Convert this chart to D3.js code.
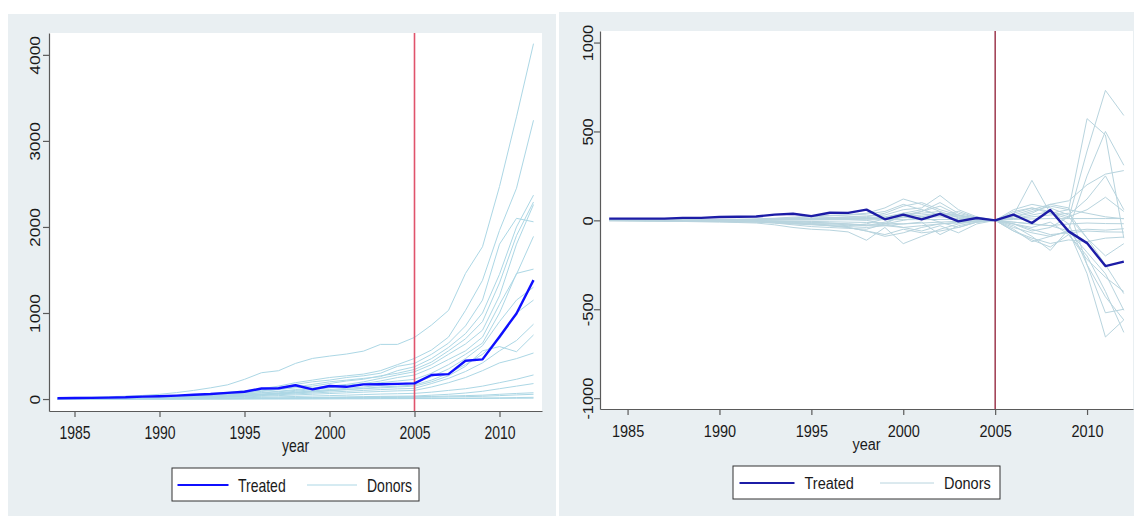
<!DOCTYPE html>
<html>
<head>
<meta charset="utf-8">
<script src="https://cdn.jsdelivr.net/npm/d3@7/dist/d3.min.js"></script>
<style>
  html, body { margin: 0; padding: 0; background: #fff; }
  svg { display: block; }
</style>
</head>
<body>
<svg id="chart" width="1134" height="516"></svg>
<script>
// years 1984 - 2012
var years = d3.range(1984, 2013);
var xTicks = [1985, 1990, 1995, 2000, 2005, 2010];
var yTicksLevel = [0, 1000, 2000, 3000, 4000];
var yTicksGap = [-1000, -500, 0, 500, 1000];
var legendLabels = ["Treated", "Donors"];
var xTitle = "year";
var treatmentYear = 2005;

// left panel: outcome levels
var treatedLevel = [10,12,14,17,20,28,33,40,50,58,72,85,122,125,160,112,152,142,170,172,176,182,279,290,445,461,724,995,1382];
var donorsLevel = [
  [15,18,22,27,33,42,55,75,100,130,165,229,306,329,414,472,499,523,557,635,635,716,860,1030,1460,1770,2470,3280,4130],
  [10,12,14,17,21,26,32,40,50,62,78,95,120,150,190,220,250,270,290,330,400,472,570,720,1030,1380,1960,2450,3240],
  [8,10,12,15,18,22,28,35,44,55,68,82,105,130,170,200,220,250,270,300,380,414,520,650,850,1150,1800,2100,2060],
  [7,9,11,13,16,20,25,31,39,48,60,75,95,115,140,170,200,220,240,260,330,375,470,600,760,1000,1450,2000,2370],
  [6,8,10,12,15,18,23,29,36,45,56,70,88,110,130,150,180,210,230,270,300,344,430,560,700,900,1350,1900,2290],
  [6,7,9,11,13,16,20,25,31,39,48,60,75,90,110,130,150,170,200,240,280,317,400,520,640,800,1200,1800,2260],
  [5,6,8,10,12,15,19,24,30,37,46,57,70,85,100,120,140,160,180,210,250,279,360,460,560,720,1100,1450,1890],
  [5,6,7,9,11,13,16,20,25,31,38,47,58,72,90,110,130,150,170,190,210,229,300,400,520,650,1000,1460,1510],
  [4,5,6,8,10,12,15,19,24,30,37,45,55,68,80,95,110,125,140,160,175,190,260,350,470,620,900,1150,1300],
  [4,5,6,7,9,11,13,16,20,25,31,38,47,58,70,82,95,110,125,140,150,163,220,300,400,520,700,1000,1150],
  [3,4,5,6,7,9,11,14,17,21,26,32,40,50,60,70,80,90,100,110,118,124,180,240,320,420,560,680,870],
  [4,5,6,7,9,11,14,17,21,26,32,40,50,62,75,88,100,110,120,130,140,150,200,270,380,560,610,550,745],
  [3,3,4,5,6,7,9,11,14,17,21,26,32,40,48,56,64,72,80,88,95,100,140,190,250,330,420,470,535],
  [2,2,3,3,4,5,6,7,9,11,13,16,20,25,30,35,40,45,52,58,62,66,80,100,120,150,190,230,280],
  [1,1,2,2,2,3,3,4,5,6,7,9,11,13,16,19,22,25,28,31,33,35,45,55,70,90,120,150,180],
  [1,1,1,2,2,2,3,3,4,5,6,7,8,10,12,14,16,18,20,23,25,27,30,35,40,45,55,65,73],
  [1,1,1,1,2,2,2,3,3,4,4,5,6,7,8,10,12,14,16,18,19,20,22,25,28,32,40,48,55],
  [0,0,1,1,1,1,1,1,2,2,2,2,3,3,3,4,4,5,5,6,7,8,9,10,11,12,14,17,20],
  [0,0,0,0,1,1,1,1,1,1,1,2,2,2,2,2,3,3,3,4,4,5,5,6,6,7,8,9,10]
];

// right panel: gaps
var treatedGap = [10,10,10,10,14,14,19,20,22,32,37,24,43,42,60,6,32,6,37,-6,13,0,32,-15,58,-62,-128,-257,-232];
var donorsGap = [
  [0,0,-1,-2,-3,-4,-5,-6,-8,-15,-25,-35,-40,-45,-50,-20,30,50,80,30,10,0,30,225,40,10,390,731,590],
  [1,1,2,2,3,4,5,6,8,12,18,22,28,32,40,70,120,90,50,15,5,0,50,70,40,60,572,480,-100],
  [-2,-3,-4,-5,-6,-8,-10,-12,-15,-25,-40,-50,-55,-65,-112,-40,-131,-90,-50,-20,-5,0,-30,-90,-169,-50,250,500,310],
  [1,1,1,2,2,3,3,4,5,8,10,12,15,20,25,30,60,70,140,60,20,0,20,40,90,110,200,260,280],
  [-1,-2,-2,-3,-4,-5,-6,-8,-10,-15,-20,-25,-30,-35,-40,-30,-20,-10,-80,-30,-10,0,-20,-60,-40,20,60,130,50],
  [0,-1,-1,-2,-3,-4,-5,-6,-8,-12,-18,-22,-30,-40,-60,-90,-70,-40,-20,-10,-5,0,-50,-120,-90,-60,-300,-656,-560],
  [1,1,2,2,3,3,4,5,6,10,14,20,25,30,35,50,90,60,30,50,15,0,40,70,50,-20,-250,-520,-500],
  [0,0,1,1,1,2,2,3,3,5,8,10,8,5,0,-20,-40,-60,-30,-70,-20,0,-60,-110,-150,-80,-200,-400,-630],
  [-2,-2,-3,-3,-4,-5,-6,-7,-9,-12,-15,-18,-20,-25,-30,-20,0,20,40,30,10,0,10,30,50,20,-100,-250,-412],
  [0,0,0,1,1,1,2,2,3,4,5,6,8,10,12,15,30,40,50,-10,-5,0,-10,-20,-30,-60,-180,-300,-506],
  [1,1,1,1,2,2,2,3,3,4,5,6,7,8,10,12,15,18,20,10,5,0,20,50,80,60,40,20,9],
  [-1,-1,-1,-1,-2,-2,-2,-3,-3,-4,-5,-6,-8,-10,-12,-15,-20,-15,-10,-5,-2,0,-10,-20,-30,-20,-15,-18,-19],
  [0,0,0,-1,-1,-1,-2,-2,-3,-5,-8,-10,-15,-20,-25,-30,-40,-30,-20,-15,-5,0,-40,-70,-90,-60,-50,-55,-47],
  [1,1,2,2,2,3,3,4,5,6,8,10,12,14,16,20,40,60,30,20,5,0,-20,-50,-80,-70,-60,-65,-66],
  [0,0,-1,-1,-1,-2,-2,-3,-4,-6,-10,-20,-30,-40,-60,-80,-50,-70,-60,-40,-10,0,-60,-100,-130,-110,-120,-100,-94],
  [0,0,0,0,1,1,1,1,2,3,4,5,6,7,8,10,20,30,40,25,10,0,10,20,30,40,-100,-200,-131],
  [-1,-1,-1,-2,-2,-2,-3,-3,-4,-6,-8,-12,-16,-20,-30,-10,20,50,100,40,15,0,30,60,90,70,-250,-430,-560],
  [0,0,0,0,1,1,1,1,1,2,2,2,3,3,3,4,4,4,5,5,3,0,5,8,10,10,10,10,10],
  [-1,-1,-2,-2,-3,-3,-4,-5,-6,-10,-15,-20,-25,-30,-20,10,40,20,-10,-40,-10,0,-20,-40,-10,-80,-220,-320,-400],
  [0,1,1,1,2,2,3,3,4,6,9,12,15,18,20,40,80,100,60,30,10,0,60,90,70,30,120,250,60]
];

var svg = d3.select("#chart");
var fontFamily = "'Liberation Sans', Arial, sans-serif";

var panels = [
  {
    bg: [8, 14, 548, 502], plot: { l: 49, r: 542, t: 33, b: 411 },
    yDomain: [-139, 4254], yTicks: yTicksLevel,
    treated: treatedLevel, donors: donorsLevel,
    treatedColor: "#0f0fff", donorColor: "#acd7e5", refColor: "#e0536c", refWidth: 1.6,
    fontSize: 14, sy: 1.25, yLabelOff: 9.5, xLabelOff: 28, yearBase: 452,
    legend: { x: 172, y: 468, w: 247, h: 33, l1: [5.5, 56.5], t1: 66, l2: [135, 185], t2: 195, base: 23.7 }
  },
  {
    bg: [559, 12, 575, 504], plot: { l: 600, r: 1133, t: 31, b: 409 },
    yDomain: [-1061, 1065], yTicks: yTicksGap,
    treated: treatedGap, donors: donorsGap,
    treatedColor: "#1c1ca6", donorColor: "#b8d4de", refColor: "#8e1b33", refWidth: 1.3,
    fontSize: 14.5, sy: 1.13, yLabelOff: 7.5, xLabelOff: 28, yearBase: 450,
    legend: { x: 733, y: 466, w: 267, h: 33, l1: [6.5, 61.5], t1: 71.5, l2: [147, 201], t2: 211, base: 23.3 }
  }
];

panels.forEach(function (cfg) {
  var g = svg.append("g");
  var p = cfg.plot;

  g.append("rect")
    .attr("x", cfg.bg[0]).attr("y", cfg.bg[1])
    .attr("width", cfg.bg[2]).attr("height", cfg.bg[3])
    .attr("fill", "#e9eff2");

  g.append("rect")
    .attr("x", p.l).attr("y", p.t)
    .attr("width", p.r - p.l).attr("height", p.b - p.t)
    .attr("fill", "#ffffff");

  var x = d3.scaleLinear().domain([1983.5, 2012.5]).range([p.l, p.r]);
  var y = d3.scaleLinear().domain(cfg.yDomain).range([p.b, p.t]);

  var line = d3.line()
    .x(function (d, i) { return x(years[i]); })
    .y(function (d) { return y(d); });

  g.selectAll(".donor")
    .data(cfg.donors)
    .enter()
    .append("path")
    .attr("class", "donor")
    .attr("d", line)
    .attr("fill", "none")
    .attr("stroke", cfg.donorColor)
    .attr("stroke-width", 1);

  g.append("line")
    .attr("x1", x(treatmentYear)).attr("x2", x(treatmentYear))
    .attr("y1", p.t).attr("y2", p.b)
    .attr("stroke", cfg.refColor)
    .attr("stroke-width", cfg.refWidth);

  g.append("path")
    .datum(cfg.treated)
    .attr("d", line)
    .attr("fill", "none")
    .attr("stroke", cfg.treatedColor)
    .attr("stroke-width", 2.4)
    .attr("stroke-linejoin", "round");

  // axes (plain hyphen for negatives, like the original)
  var plain = function (d) { return String(d); };
  var yAxis = g.append("g")
    .attr("transform", "translate(" + p.l + ",0)")
    .call(d3.axisLeft(y).tickValues(cfg.yTicks).tickSize(6).tickSizeOuter(0).tickFormat(plain));

  var xAxis = g.append("g")
    .attr("transform", "translate(0," + p.b + ")")
    .call(d3.axisBottom(x).tickValues(xTicks).tickSize(6).tickSizeOuter(0).tickFormat(plain));

  [yAxis, xAxis].forEach(function (a) {
    a.select(".domain").attr("stroke", "#5a5a5a").attr("stroke-width", 1.2);
    a.selectAll(".tick line").attr("stroke", "#5a5a5a").attr("stroke-width", 1.2);
    a.selectAll("text")
      .attr("font-family", fontFamily)
      .attr("font-size", cfg.fontSize)
      .attr("fill", "#1a1a1a");
  });

  yAxis.selectAll(".tick text")
    .attr("x", 0).attr("y", 0).attr("dy", null)
    .attr("text-anchor", "middle")
    .attr("transform", "translate(" + (-cfg.yLabelOff) + ",0) scale(1," + cfg.sy + ") rotate(-90)");

  xAxis.selectAll(".tick text")
    .attr("y", 0).attr("dy", null)
    .attr("transform", "translate(0," + cfg.xLabelOff + ") scale(1," + cfg.sy + ")");

  g.append("text")
    .attr("transform", "translate(" + ((p.l + p.r) / 2) + "," + cfg.yearBase + ") scale(1," + cfg.sy + ")")
    .attr("text-anchor", "middle")
    .attr("font-family", fontFamily)
    .attr("font-size", cfg.fontSize)
    .attr("fill", "#1a1a1a")
    .text(xTitle);

  // legend
  var L = cfg.legend;
  var lg = g.append("g").attr("transform", "translate(" + L.x + "," + L.y + ")");
  lg.append("rect")
    .attr("x", 0).attr("y", 0).attr("width", L.w).attr("height", L.h)
    .attr("fill", "#ffffff").attr("stroke", "#333").attr("stroke-width", 1);
  var mid = L.h / 2 + 0.5;
  lg.append("line")
    .attr("x1", L.l1[0]).attr("x2", L.l1[1]).attr("y1", mid).attr("y2", mid)
    .attr("stroke", cfg.treatedColor).attr("stroke-width", 2.2);
  lg.append("line")
    .attr("x1", L.l2[0]).attr("x2", L.l2[1]).attr("y1", mid).attr("y2", mid)
    .attr("stroke", cfg.donorColor).attr("stroke-width", 1);
  [L.t1, L.t2].forEach(function (tx, i) {
    lg.append("text")
      .attr("transform", "translate(" + tx + "," + L.base + ") scale(1," + cfg.sy + ")")
      .attr("font-family", fontFamily)
      .attr("font-size", cfg.fontSize)
      .attr("fill", "#1a1a1a")
      .text(legendLabels[i]);
  });
});
</script>
</body>
</html>
